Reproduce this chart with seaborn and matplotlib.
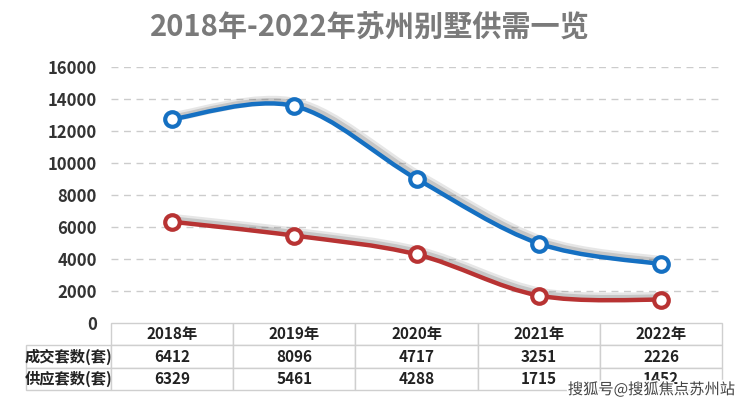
import numpy as np
import pandas as pd
import matplotlib
matplotlib.use('Agg')
import matplotlib.pyplot as plt
import matplotlib.patheffects as pe
from matplotlib.path import Path
from matplotlib.patches import PathPatch
from matplotlib.table import Table
import seaborn as sns

# 数据
years = ['2018年', '2019年', '2020年', '2021年', '2022年']
deal = [6412, 8096, 4717, 3251, 2226]      # 成交套数(套)
supply = [6329, 5461, 4288, 1715, 1452]    # 供应套数(套)
row_names = ['成交套数(套)', '供应套数(套)']
yticks = [0, 2000, 4000, 6000, 8000, 10000, 12000, 14000, 16000]

sns.set_style('white')
plt.rcParams['font.family'] = ['Noto Sans CJK SC', 'DejaVu Sans']

df = pd.DataFrame({'x': np.arange(len(years)), 'year': years,
                   '供应': supply, '成交': deal})
# 堆积折线: 成交叠加在供应之上
df['堆积'] = df['供应'] + df['成交']

fig = plt.figure(figsize=(7.4, 4.08), dpi=100)
ax = fig.add_axes([0.15, 0.2083, 0.826, 0.6275])

blue = '#1570c2'
red = '#b83333'


def smooth_path(xs, ys, t=6.0):
    # 平滑曲线 (Catmull-Rom 转 Bezier)
    pts = np.column_stack([xs, ys]).astype(float)
    verts = [pts[0]]
    codes = [Path.MOVETO]
    n = len(pts)
    for i in range(n - 1):
        p0 = pts[max(i - 1, 0)]
        p1 = pts[i]
        p2 = pts[i + 1]
        p3 = pts[min(i + 2, n - 1)]
        c1 = p1 + (p2 - p0) / t
        c2 = p2 - (p3 - p1) / t
        verts += [c1, c2, p2]
        codes += [Path.CURVE4] * 3
    return Path(verts, codes)


for col, c in [('堆积', blue), ('供应', red)]:
    patch = PathPatch(smooth_path(df['x'], df[col]), fill=False, edgecolor=c,
                      lw=3.2, zorder=3, capstyle='round',
                      path_effects=[pe.SimpleLineShadow(offset=(2, 2), shadow_color='#777777',
                                                        alpha=0.18, linewidth=7),
                                    pe.SimpleLineShadow(offset=(1.5, 1.5), shadow_color='#555555',
                                                        alpha=0.22, linewidth=4.5),
                                    pe.Normal()])
    ax.add_patch(patch)
    sns.scatterplot(data=df, x='x', y=col, ax=ax, s=110, color='white',
                    edgecolor=c, linewidth=3, zorder=4, legend=False)

ax.set_xlim(-0.5, len(years) - 0.5)
ax.set_ylim(0, 16000)
ax.set_yticks(yticks)
ax.set_yticklabels([str(v) for v in yticks], fontsize=12, fontweight='bold', color='#333333')
ax.tick_params(axis='y', length=0, pad=10)
ax.set_xticks([])
ax.set_xlabel('')
ax.set_ylabel('')
for v in yticks[1:]:
    ax.axhline(v, color='#cccccc', lw=1, ls=(0, (5, 4)), zorder=1)
for s in ax.spines.values():
    s.set_visible(False)

# 数据表
lab_w = 0.139
col_w = 1 / len(years)
rows = [[''] + years,
        [row_names[0]] + [str(v) for v in deal],
        [row_names[1]] + [str(v) for v in supply]]
tb = Table(ax, bbox=[-lab_w, -0.262, 1 + lab_w, 0.262])
for r, row in enumerate(rows):
    for c, txt in enumerate(row):
        cell = tb.add_cell(r, c, width=lab_w if c == 0 else col_w, height=1,
                           text=txt, loc='center')
        cell.set_edgecolor('#cfcfcf')
        cell.set_linewidth(1)
        cell.get_text().set_fontsize(11)
        cell.get_text().set_fontweight('bold')
        cell.get_text().set_color('#222222')
        if r == 0 and c == 0:
            cell.visible_edges = ''
tb.auto_set_font_size(False)
ax.add_table(tb)

fig.text(0.5, 0.935, '2018年-2022年苏州别墅供需一览', ha='center', va='center',
         fontsize=21, fontweight='bold', color='#7a7a7a')
fig.text(0.993, 0.045, '搜狐号@搜狐焦点苏州站', ha='right', va='center',
         fontsize=11, color='#444444',
         path_effects=[pe.withStroke(linewidth=2.5, foreground='white')])

fig.savefig('out.png', dpi=100)
